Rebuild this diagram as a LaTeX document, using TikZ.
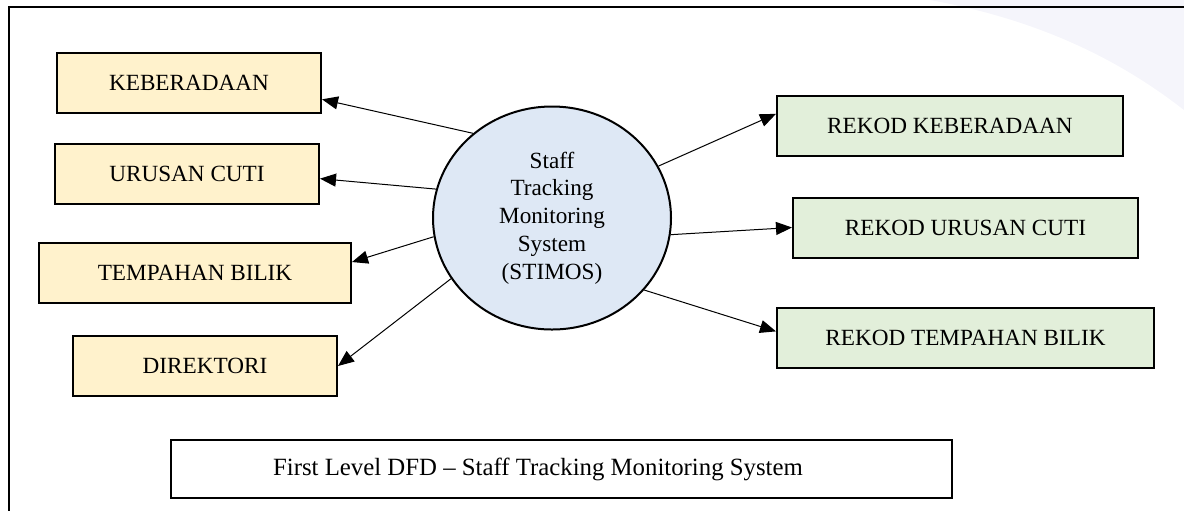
\documentclass[tikz,border=0pt]{standalone}
\usepackage{fontspec}
\setmainfont{Liberation Serif}
\usetikzlibrary{shapes.geometric,arrows.meta}

\definecolor{extfill}{RGB}{255,242,204}
\definecolor{recfill}{RGB}{226,239,218}
\definecolor{procfill}{RGB}{222,232,245}
\definecolor{wmark}{RGB}{245,245,251}

\begin{document}
\begin{tikzpicture}[x=0.5pt, y=-0.5pt,
    every node/.style={font=\fontsize{11.6}{13.9}\selectfont},
    entity/.style={draw, line width=1pt, fill=extfill, minimum height=30pt, inner sep=0pt},
    record/.style={draw, line width=1pt, fill=recfill, minimum height=30pt, inner sep=0pt},
    flow/.style={line width=0.5pt, -{Triangle[length=8pt, width=6.5pt]}}]
  \useasboundingbox (0, 0) rectangle (1184, 510);
  % faint backdrop, top right
  \fill[wmark] (930, 0) .. controls (1040, 20) and (1120, 60) .. (1184, 110) -- (1184, 0) -- cycle;
  % outer frame (open to the right and bottom)
  \draw[line width=1pt] (9, 512) -- (9, 7) -- (1190, 7);
  % the process
  \node[ellipse, draw, line width=1pt, fill=procfill, minimum width=119pt,
        minimum height=111.5pt, align=center, inner sep=0pt] (stimos) at (552, 218)
        {Staff\\Tracking\\Monitoring\\System\\(STIMOS)};
  % left side: outputs to the user
  \node[entity, minimum width=132pt] (keberadaan) at (189, 83) {KEBERADAAN};
  \node[entity, minimum width=132pt] (urusan) at (187, 174) {URUSAN CUTI};
  \node[entity, minimum width=156pt] (tempahan) at (195, 273) {TEMPAHAN BILIK};
  \node[entity, minimum width=132pt] (direktori) at (205, 366) {DIREKTORI};
  % right side: records
  \node[record, minimum width=173pt] (rkeberadaan) at (950, 126) {REKOD KEBERADAAN};
  \node[record, minimum width=172.5pt] (rurusan) at (965.5, 227.5) {REKOD URUSAN CUTI};
  \node[record, minimum width=188.5pt] (rtempahan) at (965.5, 338) {REKOD TEMPAHAN BILIK};
  % flows
  \draw[flow] (stimos.133) -- (keberadaan.-7);
  \draw[flow] (stimos.166) -- (urusan.-2);
  \draw[flow] (stimos.189) -- (tempahan.4);
  \draw[flow] (stimos.211) -- (direktori.east);
  \draw[flow] (stimos.26) -- (rkeberadaan.176);
  \draw[flow] (stimos.-8) -- (rurusan.west);
  \draw[flow] (stimos.-38) -- (rtempahan.178);
  % caption
  \node[draw, line width=1pt, fill=white, minimum width=390.5pt, minimum height=29pt,
        inner sep=0pt, font=\fontsize{12.4}{14}\selectfont] (caption) at (561.5, 469)
        {First Level DFD -- Staff Tracking Monitoring System\hspace*{23.5pt}};
\end{tikzpicture}
\end{document}
